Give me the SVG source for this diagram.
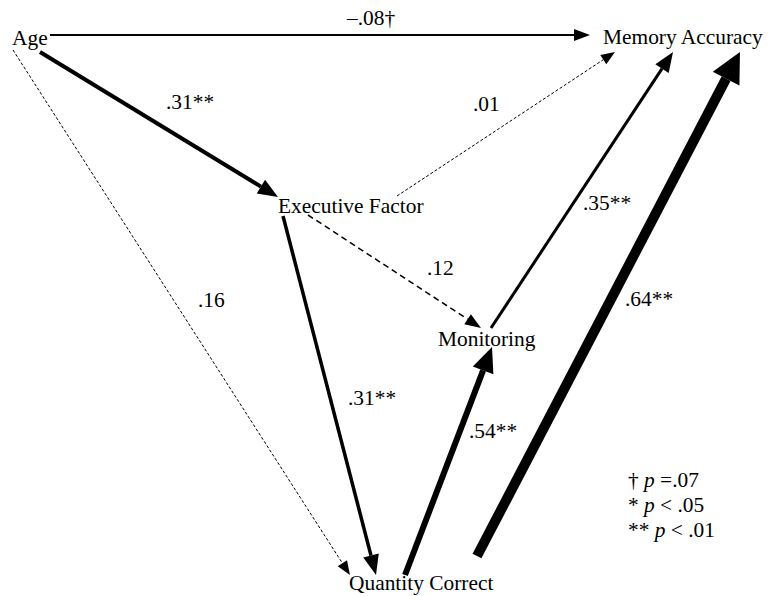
<svg xmlns="http://www.w3.org/2000/svg" width="768" height="596" viewBox="0 0 768 596" font-family="'Liberation Serif', 'Times New Roman', Times, 'DejaVu Serif', serif">
<style>
text{font-family:'Liberation Serif','Times New Roman',Times,'DejaVu Serif',serif;font-size:21.4px;fill:#000}
.e{stroke:#000;fill:none;stroke-linecap:butt}
.dt{stroke-dasharray:3,2}
.dm{stroke-dasharray:6,4}
.ah{fill:#000;stroke:none}
</style>
<defs>
<marker id="a12" markerUnits="userSpaceOnUse" orient="auto" refX="0" refY="0" markerWidth="14" markerHeight="12" overflow="visible"><path class="ah" d="M0,-5.5 L14,0 L0,5.5 z"/></marker>
<marker id="a16" markerUnits="userSpaceOnUse" orient="auto" refX="0" refY="0" markerWidth="16" markerHeight="12" overflow="visible"><path class="ah" d="M0,-6 L16,0 L0,6 z"/></marker>
<marker id="a20" markerUnits="userSpaceOnUse" orient="auto" refX="0" refY="0" markerWidth="20" markerHeight="16" overflow="visible"><path class="ah" d="M0,-8 L20,0 L0,8 z"/></marker>
<marker id="a25" markerUnits="userSpaceOnUse" orient="auto" refX="0" refY="0" markerWidth="25" markerHeight="22" overflow="visible"><path class="ah" d="M0,-11 L25,0 L0,11 z"/></marker>
<marker id="a30" markerUnits="userSpaceOnUse" orient="auto" refX="0" refY="0" markerWidth="30" markerHeight="30" overflow="visible"><path class="ah" d="M0,-15 L30,0 L0,15 z"/></marker>
</defs>
<g id="connectors">
<line class="e" x1="50" y1="35" x2="574" y2="35" stroke-width="2" marker-end="url(#a16)"/>
<line class="e" x1="40" y1="52" x2="260.9" y2="186.6" stroke-width="4" marker-end="url(#a20)"/>
<line class="e dt" x1="13" y1="50" x2="342.4" y2="563.2" stroke-width="1" marker-end="url(#a12)"/>
<line class="e dt" x1="397" y1="196" x2="603.3" y2="59.7" stroke-width="1" marker-end="url(#a12)"/>
<line class="e dm" x1="308" y1="215" x2="467.6" y2="319.2" stroke-width="1.5" marker-end="url(#a16)"/>
<line class="e" x1="283" y1="216" x2="371" y2="555.6" stroke-width="3.5" marker-end="url(#a20)"/>
<line class="e" x1="491" y1="328" x2="662" y2="68.7" stroke-width="3" marker-end="url(#a20)"/>
<line class="e" x1="405" y1="575" x2="483.1" y2="370.4" stroke-width="6" marker-end="url(#a25)"/>
<line class="e" x1="477" y1="556" x2="726.1" y2="78.6" stroke-width="10" marker-end="url(#a30)"/>
</g>
<g id="edge-labels">
<text x="347" y="25">–.08†</text>
<text x="166" y="109">.31**</text>
<text x="473" y="111">.01</text>
<text x="583" y="210">.35**</text>
<text x="427" y="275">.12</text>
<text x="198" y="307">.16</text>
<text x="348" y="405">.31**</text>
<text x="469" y="438">.54**</text>
<text x="625" y="306">.64**</text>
</g>
<g id="age"><text x="12" y="45">Age</text></g>
<g id="memory-accuracy"><text x="603" y="44">Memory Accuracy</text></g>
<g id="executive-factor"><text x="278" y="213">Executive Factor</text></g>
<g id="monitoring"><text x="438" y="346">Monitoring</text></g>
<g id="quantity-correct"><text x="349" y="590">Quantity Correct</text></g>
<g id="legend">
<text x="628" y="487">† <tspan font-style="italic">p</tspan> =.07</text>
<text x="628" y="512">* <tspan font-style="italic">p</tspan> &lt; .05</text>
<text x="628" y="537">** <tspan font-style="italic">p</tspan> &lt; .01</text>
</g>
</svg>
